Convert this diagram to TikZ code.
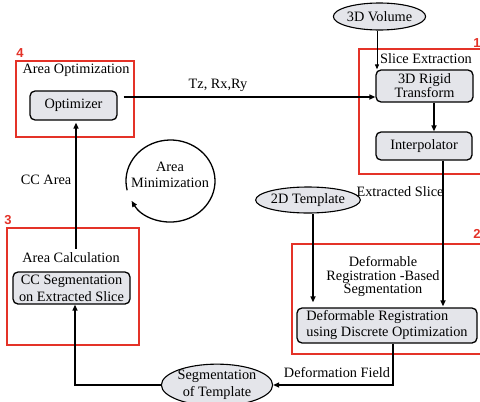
\documentclass[tikz,border=0pt]{standalone}
\usepackage{fontspec}
\setmainfont{Liberation Serif}
\newfontfamily\numfont{Liberation Sans}
\usetikzlibrary{shapes.geometric,arrows.meta,calc}
\definecolor{redc}{RGB}{228,50,40}
\definecolor{boxfill}{RGB}{228,229,234}
\begin{document}
\begin{tikzpicture}[x=1pt,y=-1pt,
 every node/.style={font=\fontsize{14.3}{15}\selectfont, inner sep=0pt},
 pbox/.style={draw, line width=1.3pt, rounded corners=5pt, fill=boxfill, align=center},
 ell/.style={ellipse, draw, line width=1.1pt, fill=boxfill, align=center},
 redbox/.style={draw=redc, line width=1.4pt},
 num/.style={text=redc, font=\numfont\bfseries\fontsize{13}{13}\selectfont},
 lbl/.style={align=center},
 arr/.style={line width=1.8pt, -{Triangle[length=6pt,width=5pt]}},
 thinarr/.style={line width=1pt, -{Triangle[length=5pt,width=4pt]}},
 plain/.style={line width=1.8pt}
]
\clip (0,0) rectangle (480,402);
\fill[white] (0,0) rectangle (480,402);

% red frames
\draw[redbox] (16,61) rectangle (134,137);
\draw[redbox] (359,49) rectangle (483,174);
\draw[redbox] (7,228) rectangle (139,345);
\draw[redbox] (292,244) rectangle (483,354);
\node[num] (n4) at (20,53) {4};
\node[num] (n1) at (477,43) {1};
\node[num] (n3) at (8,220) {3};
\node[num] (n2) at (477,234) {2};

% frame titles
\node[lbl] (tOpt) at (76,70) {Area Optimization};
\node[lbl] (tSlice) at (426,59) {Slice Extraction};
\node[lbl] (tCalc) at (71,258) {Area Calculation};
\node[lbl, font=\fontsize{14.3}{13.5}\selectfont] (tDef) at (383,277) {Deformable\\Registration -Based\\Segmentation};

% process boxes
\node[pbox, minimum width=87pt, minimum height=29pt] (opt) at (73.5,105.5) {Optimizer};
\node[pbox, minimum width=97pt, minimum height=32pt, font=\fontsize{14.3}{14}\selectfont] (rigid) at (424.5,86) {3D Rigid\\Transform};
\node[pbox, minimum width=96pt, minimum height=28pt] (interp) at (424,146) {Interpolator};
\node[pbox, minimum width=180pt, minimum height=35pt, align=left, font=\fontsize{14.3}{16}\selectfont] (defreg) at (387,325.5) {Deformable Registration\\using Discrete Optimization};
\node[pbox, minimum width=117pt, minimum height=32pt, font=\fontsize{14.3}{17}\selectfont] (cc) at (71.5,288) {CC Segmentation\\on Extracted Slice};

% ellipses
\node[ell, minimum width=81pt, minimum height=27pt] (vol) at (379.5,16.5) {3D Volume};
\node[ell, minimum width=90pt, minimum height=26pt] (tmpl) at (308,200) {2D Template};
\node[ell, minimum width=110pt, minimum height=36pt, font=\fontsize{14.3}{17}\selectfont] (seg) at (217,385) {Segmentation\\of Template};

% connector labels
\node[lbl] (lT) at (218,85) {Tz, Rx,Ry};
\node[lbl] (lCC) at (46,180) {CC Area};
\node[lbl] (lES) at (400,192) {Extracted Slice};
\node[lbl] (lDF) at (337,373) {Deformation Field};
\node[lbl, font=\fontsize{14.3}{16}\selectfont] (lMin) at (170,175) {Area\\Minimization};

% connectors
\coordinate (optout) at ($(opt.east)+(6,-8.5)$);
\draw[arr] (optout) -- (optout -| rigid.west);
\coordinate (volout) at ($(vol.south)+(-2.5,0)$);
\draw[thinarr] (volout) -- (volout |- rigid.north);
\coordinate (rigout) at ($(rigid.south)+(9.5,0)$);
\draw[arr] (rigout) -- (rigout |- interp.north);
\coordinate (intout) at ($(interp.south)+(19,0)$);
\draw[arr] (intout) -- ($(intout |- defreg.north)+(0,-1)$);
\coordinate (tmplout) at ($(tmpl.south)+(5,0)$);
\draw[arr] (tmplout) -- ($(tmplout |- defreg.north)+(0,-5)$);
\coordinate (defout) at ($(defreg.south)+(6,0)$);
\draw[arr] (defout) |- (seg.east);
\coordinate (ccin) at ($(cc.south)+(3.5,0)$);
\draw[arr] (seg.west) -| (ccin);
\coordinate (calcout) at ($(tCalc.north)+(5,-4)$);
\draw[arr] (calcout) -- ($(calcout |- opt.south)+(0,2)$);

% area minimization loop
\coordinate (mc) at (170.5,181);
\draw[line width=1.3pt, -{Triangle[length=6pt,width=5pt]}] ($(mc)+(167:44.5 and 41)$) arc[start angle=167, end angle=511, x radius=44.5, y radius=41];
\end{tikzpicture}
\end{document}
